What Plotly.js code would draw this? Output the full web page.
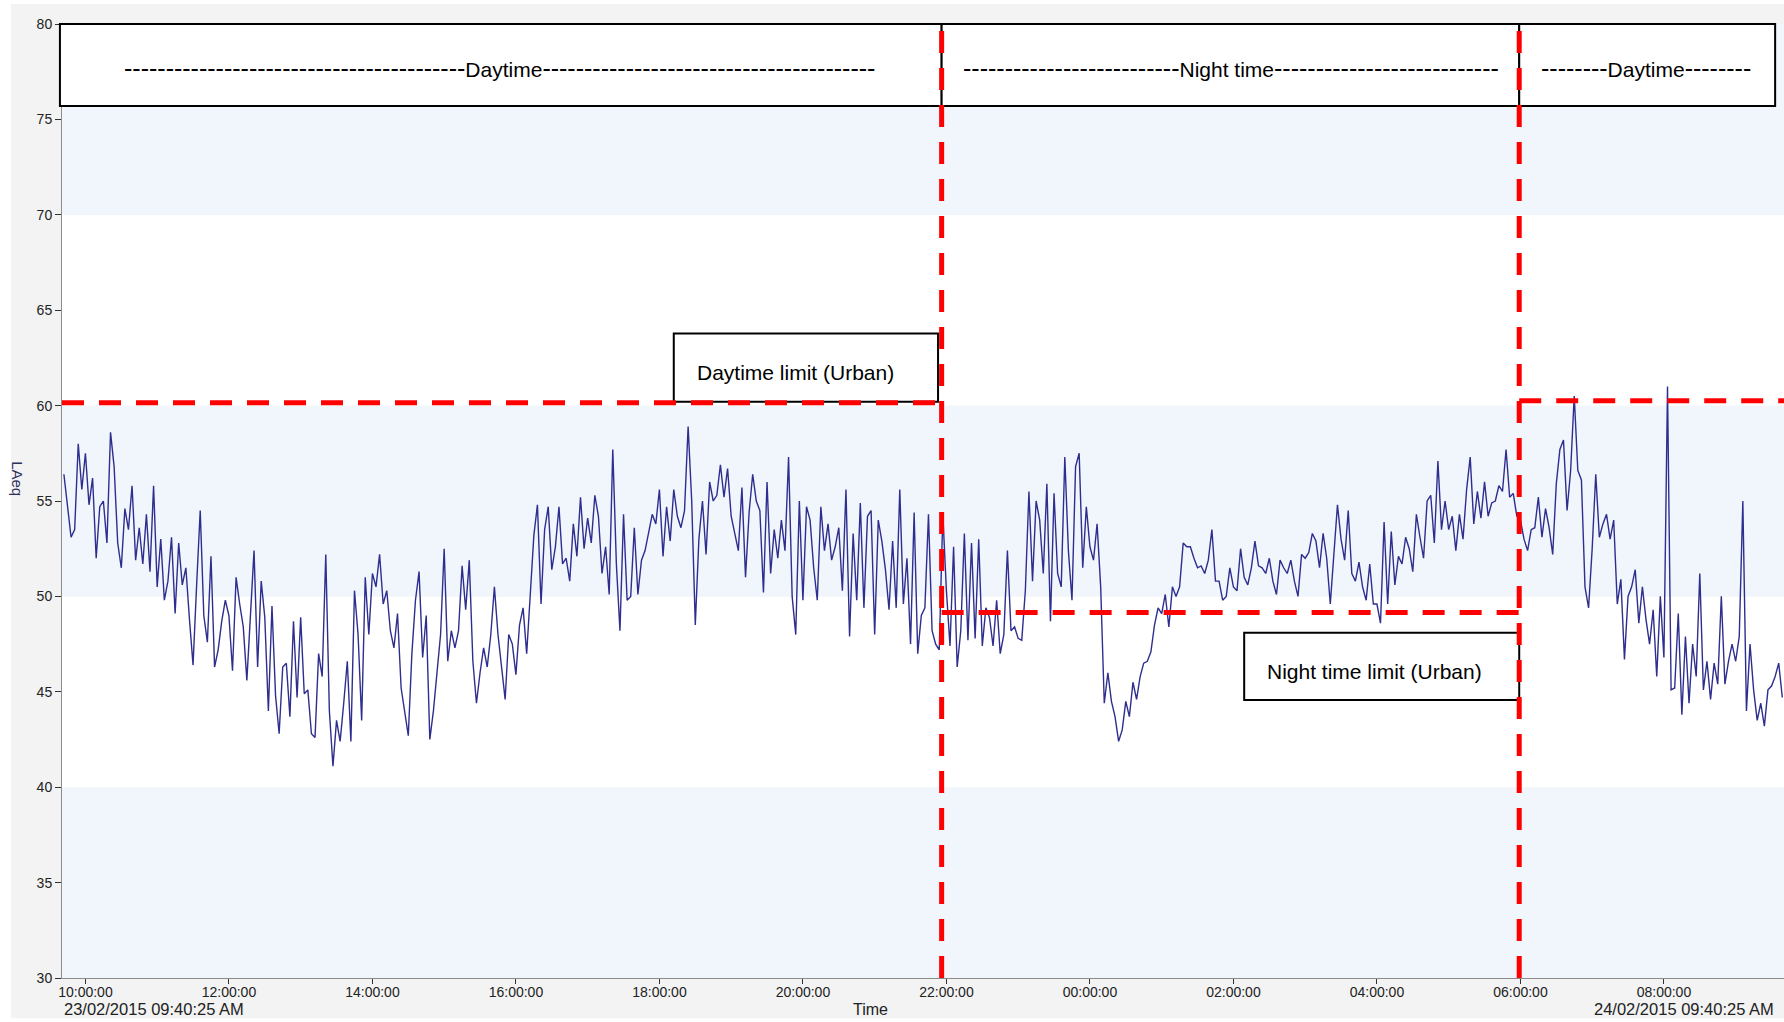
<!DOCTYPE html>
<html>
<head>
<meta charset="utf-8">
<script src="https://cdn.plot.ly/plotly-3.0.1.min.js"></script>
<style>
html,body{margin:0;padding:0;background:#ffffff;}
#chart{width:1784px;height:1022px;}
</style>
</head>
<body>
<div id="chart"></div>
<script>
// ---- Data: LAeq (dB) sampled every 3 minutes, from 23/02/2015 09:42 ----
const startTime = '2015-02-23 09:42:00';
const stepMinutes = 3;

const laeq_0942 = [56.4, 54.9, 53.1, 53.5, 58.0, 55.6];
const laeq_10 = [57.5, 54.8, 56.2, 52.0, 54.7, 55.0, 52.8, 58.6, 56.8, 52.8, 51.5, 54.6, 53.5, 55.8, 51.9, 53.6, 51.7, 54.3, 51.3, 55.8];
const laeq_11 = [50.5, 53.0, 49.8, 50.8, 53.1, 49.1, 52.8, 50.6, 51.5, 48.8, 46.4, 50.6, 54.5, 49.0, 47.6, 52.1, 46.3, 47.2, 48.7, 49.8];
const laeq_12 = [49.0, 46.1, 51.0, 49.6, 48.4, 45.6, 48.9, 52.4, 46.3, 50.8, 48.9, 44.0, 49.5, 44.8, 42.8, 46.3, 46.5, 43.7, 48.7, 44.7];
const laeq_13 = [48.9, 44.9, 45.1, 42.8, 42.6, 47.0, 45.8, 52.2, 44.0, 41.1, 43.5, 42.4, 44.4, 46.6, 42.4, 50.3, 48.0, 43.5, 51.0, 48.0];
const laeq_14 = [51.2, 50.5, 52.2, 49.6, 50.3, 48.2, 47.3, 49.1, 45.2, 44.0, 42.7, 47.0, 49.8, 51.3, 46.8, 49.0, 42.5, 44.0, 46.1, 48.0];
const laeq_15 = [52.5, 46.6, 48.2, 47.3, 48.2, 51.6, 49.3, 51.9, 46.6, 44.4, 46.0, 47.3, 46.3, 48.0, 50.5, 48.0, 46.3, 44.6, 48.0, 47.5];
const laeq_16 = [45.9, 48.5, 49.4, 47.0, 50.1, 53.2, 54.8, 49.6, 53.5, 54.7, 51.4, 52.6, 54.7, 51.7, 52.0, 50.8, 53.8, 52.1, 55.2, 52.5];
const laeq_17 = [54.1, 52.8, 55.3, 54.2, 51.2, 52.6, 50.1, 57.7, 51.7, 48.2, 54.3, 49.8, 50.0, 53.6, 50.1, 51.9, 52.4, 53.3, 54.3, 53.8];
const laeq_18 = [55.6, 52.1, 54.7, 52.9, 55.6, 54.2, 53.6, 54.5, 58.9, 55.0, 48.5, 53.0, 55.0, 52.2, 56.0, 55.0, 55.3, 56.9, 55.2, 56.7];
const laeq_19 = [54.2, 53.3, 52.4, 55.7, 51.0, 54.4, 56.4, 55.0, 54.5, 50.2, 56.0, 51.2, 53.5, 52.0, 54.0, 52.4, 57.3, 50.0, 48.0, 55.0];
const laeq_20 = [49.8, 54.7, 54.0, 51.5, 49.8, 54.7, 52.4, 53.8, 51.9, 52.6, 53.6, 50.3, 55.6, 47.9, 53.3, 49.8, 54.9, 49.4, 54.2, 54.5];
const laeq_21 = [48.0, 54.0, 52.9, 51.4, 49.3, 52.9, 49.4, 55.6, 49.6, 52.0, 47.5, 54.4, 47.0, 49.0, 49.4, 54.3, 48.2, 47.5, 47.2, 54.3];
const laeq_22 = [50.3, 47.4, 52.6, 46.3, 48.2, 53.3, 47.7, 52.8, 47.8, 53.0, 47.4, 49.4, 48.9, 47.4, 49.8, 47.0, 48.0, 52.4, 48.2, 48.4];
const laeq_23 = [47.8, 47.7, 50.3, 55.5, 50.8, 55.0, 54.0, 51.2, 55.9, 48.7, 55.4, 51.2, 50.5, 57.3, 52.4, 49.8, 56.8, 57.5, 51.5, 54.7];
const laeq_00 = [52.6, 51.9, 53.8, 50.5, 44.4, 46.0, 44.5, 43.7, 42.4, 43.0, 44.5, 43.7, 45.5, 44.6, 45.8, 46.5, 46.6, 47.1, 48.5, 49.4];
const laeq_01 = [49.1, 50.1, 48.4, 50.5, 50.0, 50.5, 52.8, 52.6, 52.6, 52.0, 51.5, 51.6, 51.2, 51.9, 53.5, 50.8, 50.8, 49.8, 50.0, 51.5];
const laeq_02 = [50.5, 50.3, 52.5, 51.0, 50.6, 51.5, 52.9, 51.6, 51.5, 51.2, 52.0, 50.8, 50.1, 51.9, 51.5, 51.2, 51.9, 50.8, 50.0, 52.2];
const laeq_03 = [52.0, 52.3, 53.3, 52.9, 51.5, 53.3, 52.0, 49.6, 52.3, 54.8, 53.0, 51.9, 54.5, 51.2, 50.8, 51.8, 50.5, 49.8, 51.7, 49.6];
const laeq_04 = [49.6, 48.6, 53.9, 49.6, 53.4, 50.6, 52.1, 51.7, 53.1, 52.5, 51.3, 54.3, 53.1, 52.0, 55.0, 55.3, 52.8, 57.1, 53.5, 55.0];
const laeq_05 = [53.5, 54.2, 52.4, 54.3, 53.0, 55.6, 57.3, 53.8, 55.5, 54.1, 56.0, 54.2, 54.9, 55.0, 55.8, 55.5, 57.7, 55.2, 55.4, 54.2];
const laeq_06 = [54.0, 53.0, 52.4, 53.5, 53.6, 55.2, 53.1, 54.6, 53.6, 52.2, 55.9, 57.7, 58.2, 54.5, 56.6, 60.5, 56.6, 56.1, 50.5, 49.4];
const laeq_07 = [52.5, 56.4, 53.1, 53.8, 54.3, 53.0, 54.0, 49.6, 50.9, 46.7, 50.0, 50.5, 51.4, 48.6, 50.5, 48.8, 47.5, 49.3, 45.8, 50.0];
const laeq_08 = [46.8, 61.0, 45.1, 45.2, 49.1, 43.8, 47.9, 44.4, 47.5, 45.8, 51.2, 45.1, 46.6, 44.6, 46.5, 45.4, 50.0, 45.4, 46.6, 47.5];
const laeq_09 = [46.6, 47.9, 55.0, 44.0, 47.5, 45.1, 43.5, 44.4, 43.2, 45.1, 45.3, 45.8, 46.5, 44.7];

// ---- Periods and limits ----
const xRange = ['2015-02-23 09:40:25', '2015-02-24 09:40:25'];
const yRange = [30, 80];
const dayEnd = '2015-02-23 21:56:00';
const nightEnd = '2015-02-24 05:59:00';
const headerEnd = '2015-02-24 09:33:00';
const dayLimit = 60.15;
const nightLimit = 49.15;
const dayLimit2 = 60.25;
const headerBottom = 75.7;
const periodLabels = ['Daytime', 'Night time', 'Daytime'];
const limitLabels = ['Daytime limit (Urban)', 'Night time limit (Urban)'];
const dateLabels = ['23/02/2015 09:40:25 AM', '24/02/2015 09:40:25 AM'];
const axisTitles = {x: 'Time', y: 'LAeq'};

// ---- Build series ----
const blocks = [laeq_0942, laeq_10, laeq_11, laeq_12, laeq_13, laeq_14, laeq_15, laeq_16, laeq_17,
  laeq_18, laeq_19, laeq_20, laeq_21, laeq_22, laeq_23, laeq_00, laeq_01, laeq_02, laeq_03,
  laeq_04, laeq_05, laeq_06, laeq_07, laeq_08, laeq_09];
const values = [].concat(...blocks);

function toMs(s){
  const [d, t] = s.split(' ');
  const [Y, M, D] = d.split('-').map(Number);
  const [h, m, sec] = t.split(':').map(Number);
  return Date.UTC(Y, M - 1, D, h, m, sec || 0);
}
function fmt(ms){
  const d = new Date(ms);
  const p = n => String(n).padStart(2, '0');
  return d.getUTCFullYear() + '-' + p(d.getUTCMonth() + 1) + '-' + p(d.getUTCDate()) + ' ' +
    p(d.getUTCHours()) + ':' + p(d.getUTCMinutes()) + ':' + p(d.getUTCSeconds());
}
const t0 = toMs(startTime);
const times = values.map((v, i) => fmt(t0 + i * stepMinutes * 60000));

function paperX(s){ return (toMs(s) - toMs(xRange[0])) / (toMs(xRange[1]) - toMs(xRange[0])); }
function paperY(v){ return (v - yRange[0]) / (yRange[1] - yRange[0]); }

const FONT = 'Liberation Sans, Arial, sans-serif';
const RED = '#ff0000';
const DASH = '22px,15px';
const BAND = '#f1f5fc';

function dashes(n){ return '<span style="font-size:25px">' + '-'.repeat(n) + '</span>'; }

const shapes = [
  // grey panel
  {type:'rect', xref:'paper', yref:'paper', x0:-0.0296, x1:1.01, y0:-0.0423, y1:1.021,
   fillcolor:'#f3f3f3', line:{width:0}, layer:'below'},
  // alternating bands
  {type:'rect', xref:'paper', yref:'y', x0:0, x1:1, y0:30, y1:40, fillcolor:BAND, line:{width:0}, layer:'below'},
  {type:'rect', xref:'paper', yref:'y', x0:0, x1:1, y0:40, y1:50, fillcolor:'#ffffff', line:{width:0}, layer:'below'},
  {type:'rect', xref:'paper', yref:'y', x0:0, x1:1, y0:50, y1:60, fillcolor:BAND, line:{width:0}, layer:'below'},
  {type:'rect', xref:'paper', yref:'y', x0:0, x1:1, y0:60, y1:70, fillcolor:'#ffffff', line:{width:0}, layer:'below'},
  {type:'rect', xref:'paper', yref:'y', x0:0, x1:1, y0:70, y1:80, fillcolor:BAND, line:{width:0}, layer:'below'},
  // header period boxes
  {type:'rect', xref:'paper', yref:'paper', x0:-0.0012, x1:paperX(dayEnd), y0:paperY(headerBottom), y1:1,
   fillcolor:'#ffffff', line:{color:'#000', width:2}},
  {type:'rect', xref:'paper', yref:'paper', x0:paperX(dayEnd), x1:paperX(nightEnd), y0:paperY(headerBottom), y1:1,
   fillcolor:'#ffffff', line:{color:'#000', width:2}},
  {type:'rect', xref:'paper', yref:'paper', x0:paperX(nightEnd), x1:paperX(headerEnd), y0:paperY(headerBottom), y1:1,
   fillcolor:'#ffffff', line:{color:'#000', width:2}},
  // limit label boxes
  {type:'rect', xref:'x', yref:'y', x0:'2015-02-23 18:12:00', x1:'2015-02-23 21:53:00', y0:60.2, y1:63.78,
   fillcolor:'#ffffff', line:{color:'#000', width:2}},
  {type:'rect', xref:'x', yref:'y', x0:'2015-02-24 02:09:00', x1:nightEnd, y0:44.57, y1:48.09,
   fillcolor:'#ffffff', line:{color:'#000', width:2}},
  // red limit lines
  {type:'line', xref:'x', yref:'y', x0:xRange[0], x1:dayEnd, y0:dayLimit, y1:dayLimit, line:{color:RED, width:5, dash:DASH}},
  {type:'line', xref:'x', yref:'y', x0:dayEnd, x1:nightEnd, y0:nightLimit, y1:nightLimit, line:{color:RED, width:5, dash:DASH}},
  {type:'line', xref:'x', yref:'y', x0:nightEnd, x1:xRange[1], y0:dayLimit2, y1:dayLimit2, line:{color:RED, width:5, dash:DASH}},
  {type:'line', xref:'x', yref:'paper', x0:dayEnd, x1:dayEnd, y0:0, y1:1, line:{color:RED, width:5, dash:DASH}},
  {type:'line', xref:'x', yref:'paper', x0:nightEnd, x1:nightEnd, y0:0, y1:1, line:{color:RED, width:5, dash:DASH}}
];

const headerY = 77.68;
const txtFont = {family:FONT, size:21, color:'#000'};
const annotations = [
  {xref:'x', yref:'y', x:'2015-02-23 15:46:00', y:headerY, showarrow:false, font:txtFont,
   text: dashes(41) + periodLabels[0] + dashes(40)},
  {xref:'x', yref:'y', x:'2015-02-24 01:58:00', y:headerY, showarrow:false, font:txtFont,
   text: dashes(26) + periodLabels[1] + dashes(27)},
  {xref:'x', yref:'y', x:'2015-02-24 07:45:00', y:headerY, showarrow:false, font:txtFont,
   text: dashes(8) + periodLabels[2] + dashes(8)},
  {xref:'x', yref:'y', x:'2015-02-23 18:30:00', y:61.75, xanchor:'left', yanchor:'middle', showarrow:false,
   font:txtFont, text:limitLabels[0]},
  {xref:'x', yref:'y', x:'2015-02-24 02:26:00', y:46.07, xanchor:'left', yanchor:'middle', showarrow:false,
   font:txtFont, text:limitLabels[1]},
  {xref:'paper', yref:'paper', x:-0.0256, y:0.523, xanchor:'center', yanchor:'middle', textangle:90, showarrow:false,
   font:{family:FONT, size:15, color:'#2f2f5f'}, text:axisTitles.y},
  {xref:'paper', yref:'paper', x:0.4698, y:-0.0328, yanchor:'middle', showarrow:false,
   font:{family:FONT, size:16, color:'#222'}, text:axisTitles.x},
  {xref:'paper', yref:'paper', x:0.0002, y:-0.0328, xanchor:'left', yanchor:'middle', showarrow:false,
   font:{family:FONT, size:16.5, color:'#222'}, text:dateLabels[0]},
  {xref:'paper', yref:'paper', x:0.9954, y:-0.0328, xanchor:'right', yanchor:'middle', showarrow:false,
   font:{family:FONT, size:16.5, color:'#222'}, text:dateLabels[1]}
];

const trace = {
  type:'scatter', mode:'lines', x:times, y:values,
  line:{color:'#2e2e8e', width:1.4}, hoverinfo:'x+y', name:'LAeq'
};

const layout = {
  width:1784, height:1022,
  margin:{l:62, r:0, t:24, b:44, pad:0},
  paper_bgcolor:'#ffffff', plot_bgcolor:'rgba(0,0,0,0)',
  showlegend:false,
  font:{family:FONT},
  xaxis:{type:'date', range:xRange, tick0:'2015-02-23 10:00:00', dtick:7200000, tickformat:'%H:%M:%S',
    ticks:'outside', ticklen:5, tickwidth:1, tickcolor:'#333', ticklabelstandoff:-4,
    showline:true, linecolor:'#8c8c8c', linewidth:1,
    showgrid:false, zeroline:false, tickfont:{family:FONT, size:14, color:'#222'}, fixedrange:true},
  yaxis:{range:yRange, tick0:30, dtick:5, ticks:'outside', ticklen:6, tickwidth:1, tickcolor:'#333',
    showline:true, linecolor:'#8c8c8c', linewidth:1, showgrid:false, zeroline:false,
    tickfont:{family:FONT, size:14, color:'#222'}, fixedrange:true},
  shapes:shapes,
  annotations:annotations
};

Plotly.newPlot('chart', [trace], layout, {displayModeBar:false, staticPlot:true});
</script>
</body>
</html>
